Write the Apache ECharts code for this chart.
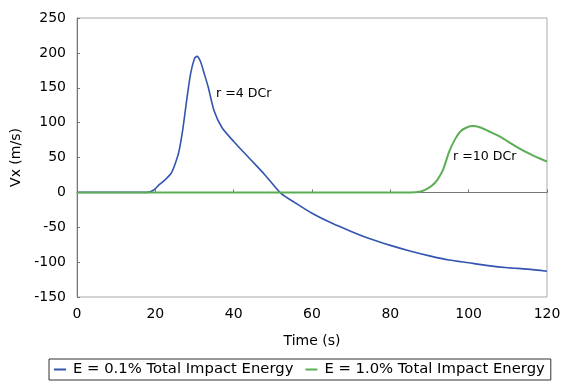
<!DOCTYPE html>
<html>
<head>
<meta charset="utf-8">
<script src="https://cdn.jsdelivr.net/npm/echarts@6/dist/echarts.min.js"></script>
<style>
  html, body { margin: 0; padding: 0; background: #fff; }
  #chart { width: 566px; height: 382px; }
</style>
</head>
<body>
<div id="chart"></div>
<script>
// E = 0.1% curve (r = 4 DCr)
const timeLow = [0, 10, 18, 19.5, 21, 22.5, 24, 25, 26, 27, 28, 29, 30, 30.6, 31.5, 32.5, 33.5, 35, 37, 40, 44, 48, 52, 56, 60, 65, 70, 75, 80, 85, 90, 95, 100, 105, 110, 115, 120]
const vxLow = [0, 0, 0, 3, 11, 18, 27, 40, 58, 90, 132, 170, 192, 195, 188, 170, 151, 117, 93, 73, 49, 25, -1, -16, -30, -44, -56, -67, -76, -84, -91, -97, -101, -105, -108, -110, -113]

// E = 1.0% curve (r = 10 DCr)
const timeHigh = [0, 85, 87.5, 89, 90.5, 92, 93.5, 95, 96.5, 98, 99.5, 101, 103, 105, 108, 112, 116, 120]
const vxHigh = [0, 0, 1, 4, 9, 18, 33, 58, 76, 88, 93, 95, 93, 88, 80, 66, 54, 44]

const xTicks = [0, 20, 40, 60, 80, 100, 120]
const yTicks = [-150, -100, -50, 0, 50, 100, 150, 200, 250]

const seriesNames = ['E = 0.1% Total Impact Energy', 'E = 1.0% Total Impact Energy']

const pairs = (xs, ys) => xs.map((x, i) => [x, ys[i]])

const chart = echarts.init(document.getElementById('chart'))
const font = 'DejaVu Sans'
const axisColor = '#777'

chart.setOption({
  animation: false,
  textStyle: { fontFamily: font },
  grid: { left: 77, right: 19, top: 18, bottom: 85, show: true, borderColor: '#aaa', borderWidth: 1 },
  xAxis: {
    type: 'value',
    min: xTicks[0],
    max: xTicks[xTicks.length - 1],
    interval: 20,
    name: 'Time (s)',
    nameLocation: 'middle',
    nameGap: 37,
    nameTextStyle: { color: '#000', fontSize: 14, fontFamily: font },
    axisLine: { lineStyle: { color: axisColor } },
    axisTick: { inside: true, length: 3, lineStyle: { color: axisColor } },
    axisLabel: { color: '#000', fontSize: 14, margin: 10 },
    splitLine: { show: false },
  },
  yAxis: {
    type: 'value',
    min: yTicks[0],
    max: yTicks[yTicks.length - 1],
    interval: 50,
    name: 'Vx (m/s)',
    nameLocation: 'middle',
    nameGap: 50,
    nameTextStyle: { color: '#000', fontSize: 14, fontFamily: font },
    axisLine: { show: true, lineStyle: { color: axisColor } },
    axisTick: { show: true, inside: true, length: 3, lineStyle: { color: axisColor } },
    axisLabel: { color: '#000', fontSize: 14, margin: 11 },
    splitLine: { show: false },
  },
  legend: {
    bottom: 2,
    left: 49,
    data: seriesNames,
    icon: 'rect',
    itemWidth: 12,
    itemHeight: 2,
    itemGap: 12,
    padding: [3, 6, 3, 5],
    borderColor: '#333',
    borderWidth: 1,
    textStyle: { color: '#000', fontSize: 14.8, fontFamily: font, padding: [0, 0, 0, 2] },
  },
  graphic: [
    { type: 'text', left: 216, top: 87, style: { text: 'r =4 DCr', font: '12.6px DejaVu Sans', fill: '#000' } },
    { type: 'text', left: 453, top: 150, style: { text: 'r =10 DCr', font: '12.6px DejaVu Sans', fill: '#000' } },
  ],
  series: [
    {
      name: seriesNames[0],
      type: 'line',
      data: pairs(timeLow, vxLow),
      showSymbol: false,
      smooth: 0.25,
      color: '#3355b0',
      lineStyle: { width: 1.6 },
      z: 2,
    },
    {
      name: seriesNames[1],
      type: 'line',
      data: pairs(timeHigh, vxHigh),
      showSymbol: false,
      smooth: 0.25,
      color: '#5cae55',
      lineStyle: { width: 2 },
      z: 3,
    },
  ],
})
</script>
</body>
</html>
